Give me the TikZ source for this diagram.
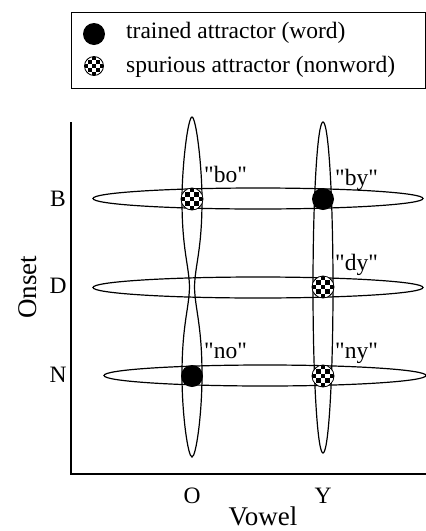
\documentclass[tikz,border=0pt]{standalone}
\usepackage{fontspec}
\setmainfont{Liberation Serif}[Ligatures=TeXOff]
\usepackage{tikz}

\begin{document}
\begin{tikzpicture}[
  x=1pt, y=-1pt,
  txt/.style={font=\fontsize{23.5}{26}\selectfont, inner sep=0pt},
  title/.style={font=\fontsize{27}{30}\selectfont, inner sep=0pt},
  blob/.style={line width=1.2pt},
  axis/.style={line width=2pt},
  trained/.style={circle, fill=black, minimum size=22pt, inner sep=0pt},
  spurious/.style={circle, draw, line width=0.8pt, fill=white, minimum size=#1pt,
    inner sep=0pt, path picture={
      \foreach \i in {0,...,4}{\foreach \j in {0,...,4}{
        \pgfmathtruncatemacro\k{mod(\i+\j,2)}
        \ifnum\k=0
          \fill[black] ([xshift=\i*#1/5 pt, yshift=-\j*#1/5 pt]path picture bounding box.north west)
            rectangle ++(#1/5, #1/5);
        \fi}}}},
  spurious/.default=22,
]
\useasboundingbox (0,0) rectangle (426,531);

% legend
\node[draw, line width=1.2pt, minimum width=354pt, minimum height=76pt, inner sep=0pt,
  anchor=north west] (legend) at (71,12) {};
\node[trained] (keytrained) at (94,34) {};
\node[spurious=19] (keyspurious) at (94,66) {};
\node[txt, anchor=base west] (texttrained) at (126,38) {trained attractor (word)};
\node[txt, anchor=base west] (textspurious) at (126,72) {spurious attractor (nonword)};

% axes
\coordinate (ytop) at (71,122);
\coordinate (xend) at (426,474);
\draw[axis] (ytop) |- (xend);

% onset bands
\draw[blob] (258,198.5) ellipse (165 and 10.5);
\draw[blob] (258,287.5) ellipse (165 and 10.5);
\draw[blob] (265,375.5) ellipse (161 and 10.5);

% vowel bands (O is pinched at D)
\draw[blob] (192,117) .. controls (196,117) and (202,165) .. (202,200)
  .. controls (202,250) and (195,265) .. (194.5,287)
  .. controls (195,309) and (202,325) .. (202,375)
  .. controls (202,415) and (196,457) .. (192,457)
  .. controls (188,457) and (182,415) .. (182,375)
  .. controls (182,325) and (189,309) .. (189.5,287)
  .. controls (189,265) and (182,250) .. (182,200)
  .. controls (182,165) and (188,117) .. (192,117) -- cycle;
\draw[blob] (323,287.5) ellipse (10 and 165.5);

% attractors
\node[spurious] (bo) at (192,199) {};
\node[trained] (by) at (323,199) {};
\node[spurious] (dy) at (323,287) {};
\node[trained] (no) at (192,376) {};
\node[spurious] (ny) at (323,376) {};

\node[txt, anchor=base west] (lbo) at (204,182) {"bo"};
\node[txt, anchor=base west] (lby) at (335,185) {"by"};
\node[txt, anchor=base west] (ldy) at (335,270) {"dy"};
\node[txt, anchor=base west] (lno) at (204,358) {"no"};
\node[txt, anchor=base west] (lny) at (335,358) {"ny"};

% axis labels
\node[txt, anchor=base] (onsetB) at (58,206) {B};
\node[txt, anchor=base] (onsetD) at (58,293) {D};
\node[txt, anchor=base] (onsetN) at (58,382) {N};
\node[title, rotate=90, anchor=base] (onset) at (36,287) {Onset};
\node[txt, anchor=base] (vowelO) at (192,503) {O};
\node[txt, anchor=base] (vowelY) at (323,503) {Y};
\node[title, anchor=base] (vowel) at (263,525) {Vowel};
\end{tikzpicture}
\end{document}
